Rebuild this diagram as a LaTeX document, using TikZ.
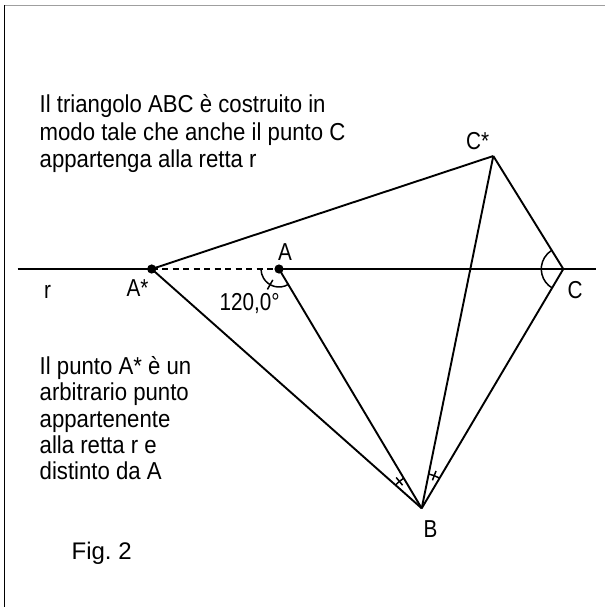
\documentclass[tikz,border=0pt]{standalone}
\usepackage{fontspec}
\setmainfont{Liberation Sans}
\newfontfamily\bodyfnt[FakeStretch=0.905]{Liberation Sans}
\newfontfamily\lblfnt[FakeStretch=0.845]{Liberation Sans}
\begin{document}
\begin{tikzpicture}[x=1pt,y=-1pt,
  geo/.style={line width=1.9pt, black},
  dashgeo/.style={line width=1.5pt, black, dash pattern=on 6pt off 4.5pt},
  angarc/.style={line width=1.5pt, black},
  body/.style={inner sep=0pt, anchor=base west, text=black, font=\bodyfnt\fontsize{24.5}{27}\selectfont},
  lbl/.style={inner sep=0pt, anchor=base, text=black, font=\lblfnt\fontsize{24.5}{27}\selectfont},
  figlbl/.style={inner sep=0pt, anchor=base west, text=black, font=\fontsize{24}{28}\selectfont},
  dot/.style={fill=black}]
\useasboundingbox (0,0) rectangle (605,607);
% frame (top and left only)
\coordinate (fTL) at (4,5.5);
\coordinate (fTR) at (605,5.5);
\coordinate (fL1) at (4.5,5);
\coordinate (fL2) at (4.5,607);
\draw[line width=1.3pt, gray!75] (fTL) -- (fTR);
\draw[line width=1.3pt, black] (fL1) -- (fL2);
% points
\coordinate (rL) at (17.5,269);
\coordinate (rR) at (596,269);
\coordinate (As) at (151.7,269);
\coordinate (A) at (279,269);
\coordinate (C) at (563.3,269);
\coordinate (Cs) at (493.3,156);
\coordinate (B) at (421.7,508.3);
% line r
\draw[geo] (rL) -- (As);
\draw[dashgeo] (As) -- (A);
\draw[geo] (A) -- (rR);
% segments
\draw[geo] (As) -- (Cs);
\draw[geo] (Cs) -- (C);
\draw[geo] (Cs) -- (B);
\draw[geo] (As) -- (B);
\draw[geo] (A) -- (B);
\draw[geo] (C) -- (B);
% angle at A (120 deg)
\draw[angarc] ([shift={(59.2:18)}]A) arc[start angle=59.2, end angle=180, radius=18];
\draw[angarc] ([shift={(119.6:12.5)}]A) -- ([shift={(119.6:23.5)}]A);
% angle at C
\draw[angarc] ([shift={(120.6:22)}]C) arc[start angle=120.6, end angle=238.2, radius=22];
% angles at B
\draw[angarc] ([shift={(221.5:35)}]B) arc[start angle=221.5, end angle=239.2, radius=35];
\draw[angarc] ([shift={(230.4:30)}]B) -- ([shift={(230.4:40)}]B);
\draw[angarc] ([shift={(281.5:35)}]B) arc[start angle=281.5, end angle=300.6, radius=35];
\draw[angarc] ([shift={(291:30)}]B) -- ([shift={(291:40)}]B);
% dots
\fill[dot] (As) circle[radius=4.6];
\fill[dot] (A) circle[radius=4.6];
% labels
\node[lbl] (lA) at (285,260) {A};
\node[lbl] (lAs) at (137.5,296.7) {A*};
\node[lbl] (lr) at (47.5,298) {r};
\node[lbl] (lang) at (249.7,310) {120,0°};
\node[lbl] (lC) at (575,298.5) {C};
\node[lbl] (lCs) at (477.7,149.3) {C*};
\node[lbl] (lB) at (430.5,537) {B};
% texts
\node[body] (t1) at (39.5,112.7) {Il triangolo ABC è costruito in};
\node[body] (t2) at (39.5,140) {modo tale che anche il punto C};
\node[body] (t3) at (39.5,167) {appartenga alla retta r};
\node[body] (u1) at (39.5,374) {Il punto A* è un};
\node[body] (u2) at (39.5,400.5) {arbitrario punto};
\node[body] (u3) at (39.5,427) {appartenente};
\node[body] (u4) at (39.5,453) {alla retta r e};
\node[body] (u5) at (39.5,479.5) {distinto da A};
\node[figlbl] (fig) at (71.4,559.3) {Fig.\ 2};
\end{tikzpicture}
\end{document}
